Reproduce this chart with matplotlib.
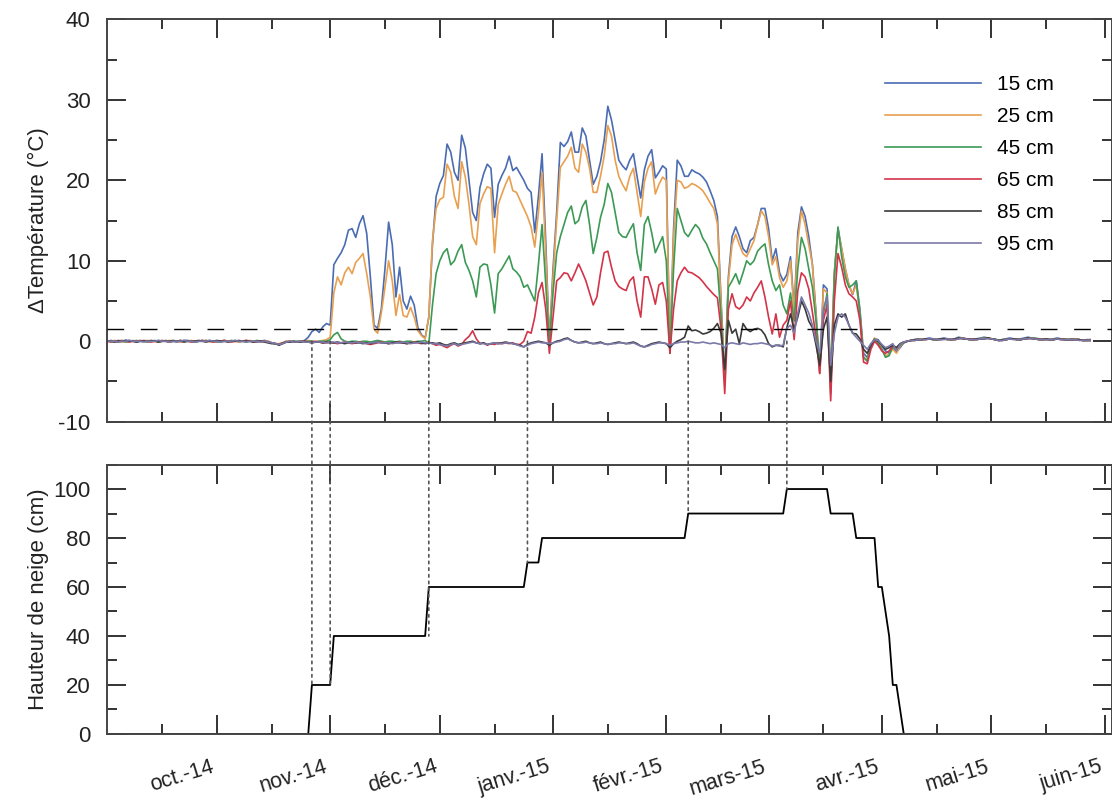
import numpy as np
import pandas as pd
import matplotlib
matplotlib.use("Agg")
import matplotlib.pyplot as plt
import matplotlib.dates as mdates
from matplotlib.patches import ConnectionPatch
from matplotlib.ticker import MultipleLocator

plt.rcParams['font.family'] = ['Liberation Sans', 'DejaVu Sans']
plt.rcParams['axes.unicode_minus'] = False

# daily temperature differences from 2014-09-01, one value per day (deg C)
t15 = [
    0.0, 0.1, 0.0, -0.1, 0.0, 0.1, 0.1, 0.0, -0.1, 0.0,
    0.1, 0.0, 0.0, 0.1, -0.1, 0.0, 0.1, 0.0, 0.0, -0.1,
    0.0, 0.1, 0.1, 0.0, -0.1, 0.0, 0.1, 0.0, 0.1, 0.0,
    -0.1, 0.0, 0.1, 0.0, 0.0, 0.1, -0.1, 0.0, 0.1, 0.0,
    0.0, -0.1, 0.0, 0.1, 0.0, -0.2, -0.3, -0.4, -0.2, 0.0,
    -0.1, 0.0, -0.1, 0.0, 0.1, 0.5, 1.2, 1.5, 1.1, 1.8,
    2.2, 2.0, 9.5, 10.3, 11.0, 12.0, 13.8, 14.0, 12.9, 14.6,
    15.6, 13.4, 8.0, 2.0, 1.6, 4.0, 9.0, 14.8, 12.0, 5.5,
    9.2, 5.0, 4.0, 5.6, 4.5, 1.7, 0.8, 0.4, 3.0, 12.0,
    18.0, 19.6, 20.6, 24.5, 23.5, 21.0, 20.0, 25.6, 24.0, 20.0,
    16.0, 15.0, 19.1, 20.8, 22.0, 21.5, 15.4, 19.5, 20.6, 21.5,
    23.0, 21.2, 21.6, 20.8, 20.0, 19.0, 18.5, 13.5, 18.0, 23.3,
    12.5, -0.2, 9.0, 16.0, 24.7, 24.2, 24.8, 26.0, 23.5, 23.5,
    26.5, 25.5, 22.5, 19.5, 20.5, 22.3, 25.0, 29.2, 27.5, 25.0,
    22.5, 21.8, 21.3, 22.5, 23.3, 20.5, 17.8, 21.3, 23.0, 23.8,
    20.3, 21.0, 21.8, 21.4, -1.5, 14.0, 22.5, 21.8, 20.5, 20.5,
    21.3, 21.0, 20.8, 20.4, 19.8, 18.7, 17.5, 15.5, 5.0, -4.5,
    8.0, 13.0, 14.2, 13.0, 11.5, 11.0, 12.5, 12.9, 14.5, 16.5,
    16.5, 14.0, 10.0, 11.5, 8.5, 7.5, 8.3, 10.5, 4.0, 13.5,
    16.7, 15.5, 13.0, 9.5, 3.5, -4.0, 7.0, 6.5, -5.0, 8.5,
    14.0, 11.5, 9.0, 7.0, 5.8, 7.5, 4.0, -1.5, -2.0, -0.6,
    0.3, 0.2, -0.6, -1.2, -1.5, -0.8, -1.3, -0.8, -0.2, 0.0,
    0.1, 0.2, 0.3, 0.2, 0.3, 0.4, 0.3, 0.2, 0.3, 0.4,
    0.3, 0.2, 0.3, 0.5, 0.4, 0.3, 0.2, 0.3, 0.3, 0.4,
    0.5, 0.4, 0.3, 0.2, 0.1, 0.2, 0.3, 0.4, 0.3, 0.2,
    0.3, 0.4, 0.5, 0.4, 0.3, 0.2, 0.3, 0.3, 0.2, 0.3,
    0.4, 0.3, 0.2, 0.2, 0.3, 0.3, 0.2, 0.1, 0.2, 0.2,
]
t25 = [
    0.0, 0.0, 0.1, 0.0, -0.1, 0.0, 0.0, 0.1, 0.0, 0.0,
    0.0, 0.1, 0.0, 0.0, -0.1, 0.0, 0.0, 0.1, 0.0, 0.0,
    -0.1, 0.0, 0.0, 0.1, 0.0, 0.0, 0.0, 0.1, 0.0, -0.1,
    0.0, 0.0, 0.1, 0.0, 0.0, 0.0, -0.1, 0.0, 0.0, 0.1,
    0.0, 0.0, -0.1, 0.0, 0.0, -0.2, -0.3, -0.3, -0.2, 0.0,
    0.0, -0.1, 0.0, 0.0, 0.0, 0.1, 0.0, -0.1, 0.0, 0.1,
    0.2, 0.5, 6.0, 8.0, 7.0, 8.5, 9.2, 8.4, 9.8, 10.3,
    10.9, 8.4, 5.5, 1.5, 1.0, 3.5, 6.7, 10.0, 7.5, 3.2,
    5.8, 3.2, 3.0, 4.2, 3.0, 1.3, 0.7, 0.3, 3.0, 12.5,
    16.5, 17.6, 17.9, 22.0, 21.0, 18.0, 16.5, 22.3, 20.4, 17.0,
    13.0, 12.0, 17.1, 18.3, 19.2, 19.0, 11.0, 17.0, 18.3, 19.5,
    20.5, 18.7, 18.5, 17.5, 16.5, 15.5, 14.2, 11.7, 16.0, 21.0,
    11.0, -0.3, 8.0, 15.0, 21.6, 22.3, 23.0, 24.1, 21.5, 21.0,
    24.5, 23.5, 21.5, 18.5, 18.5, 20.5, 23.0, 26.8, 25.5, 22.5,
    20.5, 19.5, 18.7, 20.5, 21.5, 18.5, 15.5, 19.8, 21.5, 22.3,
    18.3, 19.5, 20.4, 20.0, -1.5, 13.0, 20.0, 19.8, 19.0, 19.2,
    19.6, 19.4, 19.1, 18.7, 18.0, 17.2, 16.5, 14.6, 4.5, -4.8,
    7.5, 12.0, 13.3, 12.0, 10.9, 10.5, 11.5, 12.5, 14.5, 16.2,
    15.5, 13.0, 9.5, 10.5, 7.9, 6.7, 7.5, 10.0, 3.5, 12.5,
    16.2, 14.5, 12.0, 9.5, 3.0, -4.0, 6.5, 6.0, -5.5, 8.5,
    13.8, 11.5, 9.0, 7.0, 5.9, 7.0, 3.5, -2.0, -2.3, -0.5,
    0.4, 0.0, -1.0, -1.8, -1.6, -1.0, -1.5, -0.6, -0.2, 0.0,
    0.1, 0.2, 0.2, 0.3, 0.2, 0.3, 0.3, 0.2, 0.3, 0.3,
    0.2, 0.2, 0.3, 0.4, 0.4, 0.3, 0.2, 0.2, 0.3, 0.3,
    0.4, 0.4, 0.3, 0.2, 0.1, 0.2, 0.2, 0.3, 0.3, 0.2,
    0.2, 0.3, 0.4, 0.4, 0.3, 0.2, 0.2, 0.3, 0.2, 0.2,
    0.3, 0.3, 0.2, 0.2, 0.2, 0.3, 0.2, 0.1, 0.1, 0.2,
]
t45 = [
    0.0, 0.0, 0.0, 0.1, 0.0, -0.1, 0.0, 0.0, 0.1, 0.0,
    0.0, -0.1, 0.0, 0.0, 0.1, 0.0, 0.0, -0.1, 0.0, 0.0,
    0.1, 0.0, 0.0, 0.0, -0.1, 0.0, 0.0, 0.1, 0.0, 0.0,
    0.0, -0.1, 0.0, 0.0, 0.1, 0.0, 0.0, 0.0, -0.1, 0.0,
    0.0, 0.1, 0.0, 0.0, -0.1, -0.2, -0.3, -0.4, -0.2, -0.1,
    0.0, -0.1, 0.0, 0.0, -0.1, 0.0, 0.0, -0.1, 0.0, 0.0,
    0.0, 0.2, 0.8, 1.1, 0.3, 0.0, -0.1, 0.0, 0.0, -0.1,
    0.0, 0.0, -0.1, 0.0, 0.1, 0.0, -0.1, 0.0, 0.0, -0.1,
    0.0, -0.1, 0.0, 0.0, -0.1, 0.0, 0.0, 0.1, -0.3, 4.5,
    8.4, 10.0, 11.0, 11.5, 9.5, 10.0, 11.2, 12.0, 9.8, 8.8,
    7.5, 5.5, 9.2, 9.6, 9.5, 7.0, 3.5, 8.4, 9.0, 9.8,
    10.6, 9.0, 8.6, 8.0, 6.7, 7.0, 6.0, 5.0, 9.5, 14.5,
    7.0, -0.3, 6.0, 11.0, 13.0, 14.5, 16.0, 16.8, 14.6, 15.0,
    16.7, 17.5, 14.5, 10.9, 12.9, 15.4, 17.0, 19.6, 18.5, 16.0,
    13.5, 13.0, 12.9, 13.8, 14.6, 11.0, 8.8, 14.5, 15.5, 13.5,
    11.0, 12.0, 13.0, 10.0, -1.5, 9.0, 16.5, 15.0, 13.5, 13.0,
    13.8, 14.5, 14.0, 12.8, 12.1, 11.0, 10.0, 9.0, 3.0, -5.0,
    6.7, 7.5, 8.4, 7.1, 8.5, 10.0, 9.5, 10.0, 11.2, 11.7,
    12.1, 9.5, 7.5, 6.3, 7.0, 4.5, 3.4, 6.0, 2.5, 9.0,
    12.9, 11.5, 9.0, 6.7, 2.5, -3.0, 3.4, 5.9, -6.5, 8.0,
    14.2, 10.5, 8.0, 6.7, 7.0, 7.5, 3.5, -2.0, -2.5, -0.5,
    0.3, -0.3, -1.0, -2.0, -1.8, -0.6, -1.0, -0.5, -0.2, 0.0,
    0.1, 0.1, 0.2, 0.2, 0.3, 0.3, 0.2, 0.2, 0.2, 0.3,
    0.3, 0.2, 0.2, 0.4, 0.4, 0.3, 0.3, 0.2, 0.2, 0.3,
    0.4, 0.4, 0.3, 0.3, 0.1, 0.1, 0.2, 0.3, 0.3, 0.3,
    0.2, 0.3, 0.4, 0.4, 0.4, 0.3, 0.2, 0.2, 0.2, 0.2,
    0.3, 0.3, 0.3, 0.2, 0.2, 0.2, 0.2, 0.1, 0.1, 0.1,
]
t65 = [
    0.0, -0.1, 0.0, 0.0, 0.1, 0.0, -0.1, 0.0, 0.0, 0.1,
    0.0, 0.0, -0.1, 0.0, 0.0, 0.1, 0.0, -0.1, 0.0, 0.0,
    0.1, 0.0, 0.0, -0.1, 0.0, 0.0, 0.1, 0.0, 0.0, -0.1,
    0.0, 0.0, 0.1, 0.0, -0.1, 0.0, 0.0, 0.0, 0.1, 0.0,
    -0.1, 0.0, 0.0, 0.0, -0.1, -0.2, -0.3, -0.4, -0.2, -0.1,
    0.0, -0.1, -0.1, 0.0, 0.0, -0.1, -0.1, 0.0, -0.1, -0.2,
    -0.2, -0.1, -0.2, -0.3, -0.2, -0.1, -0.2, -0.3, -0.2, -0.1,
    -0.2, -0.3, -0.4, -0.3, -0.2, -0.1, -0.2, -0.3, -0.2, -0.2,
    -0.1, -0.2, -0.3, -0.2, -0.1, -0.2, -0.3, -0.2, -0.1, -0.3,
    -0.5, -0.4, -0.6, -0.8, -0.5, -0.3, -0.6, -0.4, 0.2, 0.6,
    1.3, 0.3, -0.3, -0.2, -0.5, -0.3, -0.4, -0.2, -0.3, -0.2,
    -0.3, -0.2, -0.4, -0.4, 0.0, 1.2, 1.0, 3.0, 6.0, 7.3,
    4.0, -1.5, 3.0, 7.5, 7.9, 8.5, 8.4, 7.5, 8.5, 9.6,
    8.6, 7.5, 6.0, 4.5, 5.5, 8.5, 11.0, 11.2, 9.2, 7.5,
    6.8, 6.5, 6.3, 7.5, 8.0, 5.0, 3.0, 8.0, 8.0, 6.5,
    4.6, 7.0, 7.3, 5.0, -1.5, 4.0, 7.5, 8.5, 9.2, 8.6,
    8.5, 8.2, 7.9, 7.4, 6.8, 6.3, 5.8, 5.4, 1.5, -6.5,
    4.0, 5.9, 4.3, 4.0, 4.5, 5.5, 5.0, 6.0, 6.7, 7.5,
    5.5, 3.0, 0.9, 3.4, 0.5, 2.0, 2.6, 5.0, 0.2, 6.3,
    8.5, 8.0, 6.5, 3.6, 0.5, -4.0, 2.6, 4.5, -7.4, 5.0,
    10.9, 9.2, 7.0, 5.9, 5.5, 5.0, 2.6, -2.6, -2.8, -1.0,
    0.0, -0.5, -1.2, -1.5, -1.2, -0.6, -0.8, -0.4, -0.1, 0.0,
    0.1, 0.1, 0.2, 0.2, 0.2, 0.3, 0.3, 0.2, 0.2, 0.3,
    0.3, 0.2, 0.2, 0.3, 0.4, 0.3, 0.3, 0.2, 0.2, 0.3,
    0.3, 0.4, 0.3, 0.2, 0.1, 0.1, 0.2, 0.3, 0.3, 0.2,
    0.2, 0.3, 0.3, 0.4, 0.3, 0.3, 0.2, 0.2, 0.2, 0.2,
    0.3, 0.3, 0.2, 0.2, 0.2, 0.2, 0.2, 0.1, 0.1, 0.1,
]
t85 = [
    0.0, 0.0, -0.1, 0.0, 0.0, 0.1, 0.0, 0.0, -0.1, 0.0,
    0.0, 0.0, 0.1, 0.0, -0.1, 0.0, 0.0, 0.0, 0.1, 0.0,
    0.0, -0.1, 0.0, 0.0, 0.0, 0.1, 0.0, -0.1, 0.0, 0.0,
    0.1, 0.0, 0.0, -0.1, 0.0, 0.0, 0.1, 0.0, 0.0, 0.0,
    -0.1, 0.0, 0.0, -0.1, -0.2, -0.3, -0.3, -0.5, -0.3, -0.1,
    -0.1, 0.0, -0.1, -0.1, 0.0, -0.1, -0.2, -0.1, -0.1, -0.2,
    -0.1, -0.2, -0.2, -0.1, -0.2, -0.3, -0.2, -0.1, -0.2, -0.2,
    -0.3, -0.2, -0.3, -0.2, -0.1, -0.2, -0.2, -0.3, -0.2, -0.1,
    -0.2, -0.2, -0.3, -0.2, -0.2, -0.1, -0.2, -0.3, -0.2, -0.2,
    -0.3, -0.2, -0.4, -0.5, -0.3, -0.2, -0.4, -0.3, -0.2, -0.1,
    0.0, -0.2, -0.3, -0.2, -0.4, -0.3, -0.2, -0.3, -0.2, -0.1,
    -0.2, -0.3, -0.4, -0.5, -0.7, -0.4, -0.2, -0.1, 0.0, -0.1,
    -0.2, -0.5, -0.2, 0.0, 0.1, 0.3, 0.4, 0.1, -0.1, -0.2,
    -0.1, 0.0, -0.2, -0.3, -0.2, -0.1, -0.3, -0.4, -0.3, -0.2,
    -0.1, -0.2, -0.3, -0.2, -0.1, -0.3, -0.6, -0.7, -0.5, -0.3,
    -0.2, -0.1, -0.2, -0.3, -0.8, -0.3, 0.0, 0.2, 0.5, 1.9,
    1.3, 1.4, 1.2, 0.9, 1.0, 1.2, 1.6, 2.2, 1.0, -3.5,
    2.6, 1.0, 1.5, -0.3, 2.2, 1.5, 1.2, 1.5, 1.6, 1.4,
    0.8, -0.3, -0.7, -0.5, -0.5, -0.7, 1.7, 3.4, 1.5, 3.0,
    5.0, 4.0, 2.5, 1.7, -0.5, -3.0, 1.5, 3.0, -5.0, 2.0,
    3.4, 3.0, 3.4, 2.0, 1.0, 0.9, 0.3, -1.0, -1.5, -0.5,
    0.2, 0.0, -0.5, -1.0, -0.8, -0.5, -0.8, -0.3, -0.1, 0.0,
    0.1, 0.2, 0.2, 0.2, 0.3, 0.3, 0.2, 0.2, 0.3, 0.3,
    0.2, 0.2, 0.3, 0.4, 0.3, 0.3, 0.2, 0.2, 0.3, 0.3,
    0.3, 0.4, 0.3, 0.2, 0.1, 0.2, 0.2, 0.3, 0.3, 0.2,
    0.2, 0.3, 0.4, 0.3, 0.3, 0.2, 0.2, 0.3, 0.2, 0.2,
    0.3, 0.2, 0.2, 0.2, 0.2, 0.2, 0.2, 0.1, 0.1, 0.1,
]
t95 = [
    0.0, 0.0, 0.0, -0.1, 0.0, 0.0, 0.1, 0.0, 0.0, 0.0,
    -0.1, 0.0, 0.0, 0.0, 0.1, 0.0, 0.0, -0.1, 0.0, 0.0,
    0.0, 0.1, 0.0, 0.0, -0.1, 0.0, 0.0, 0.0, 0.1, 0.0,
    0.0, -0.1, 0.0, 0.0, 0.0, 0.1, 0.0, 0.0, -0.1, 0.0,
    0.0, 0.0, -0.1, 0.0, -0.1, -0.2, -0.3, -0.4, -0.3, -0.1,
    0.0, -0.1, -0.1, 0.0, -0.1, -0.1, -0.2, -0.1, -0.1, -0.1,
    -0.2, -0.1, -0.1, -0.2, -0.2, -0.1, -0.2, -0.2, -0.1, -0.2,
    -0.2, -0.3, -0.2, -0.2, -0.1, -0.2, -0.2, -0.2, -0.3, -0.2,
    -0.2, -0.1, -0.2, -0.3, -0.2, -0.2, -0.1, -0.2, -0.2, -0.3,
    -0.3, -0.4, -0.5, -0.6, -0.4, -0.3, -0.5, -0.4, -0.3, -0.2,
    -0.1, -0.2, -0.3, -0.3, -0.4, -0.3, -0.2, -0.3, -0.3, -0.2,
    -0.2, -0.3, -0.4, -0.6, -0.7, -0.5, -0.3, -0.2, -0.1, -0.2,
    -0.2, -0.3, -0.2, -0.1, 0.0, 0.2, 0.3, 0.1, -0.1, -0.2,
    -0.2, -0.1, -0.2, -0.3, -0.3, -0.2, -0.3, -0.4, -0.3, -0.3,
    -0.2, -0.2, -0.3, -0.3, -0.2, -0.4, -0.6, -0.7, -0.6, -0.4,
    -0.3, -0.2, -0.2, -0.3, -0.5, -0.3, -0.2, -0.1, -0.1, 0.0,
    -0.1, -0.2, -0.2, -0.1, -0.2, -0.3, -0.2, -0.3, -0.4, -0.8,
    -0.3, -0.2, -0.3, -0.4, -0.2, -0.3, -0.4, -0.3, -0.3, -0.2,
    -0.3, -0.4, -0.6, -0.5, -0.6, -0.5, 1.6, 2.0, 1.0, 3.5,
    5.5, 4.5, 3.5, 2.0, 0.0, -1.5, 4.0, 5.5, -3.0, 1.0,
    3.0, 3.4, 3.0, 2.0, 1.0, 0.5, 0.0, -0.5, -1.0, -0.3,
    0.2, 0.1, -0.4, -0.8, -0.6, -0.3, -1.2, -0.4, -0.1, 0.0,
    0.1, 0.1, 0.2, 0.2, 0.2, 0.3, 0.3, 0.2, 0.2, 0.2,
    0.3, 0.2, 0.2, 0.3, 0.4, 0.3, 0.2, 0.2, 0.2, 0.3,
    0.3, 0.3, 0.3, 0.2, 0.1, 0.1, 0.2, 0.3, 0.2, 0.2,
    0.2, 0.3, 0.3, 0.4, 0.3, 0.2, 0.2, 0.2, 0.2, 0.2,
    0.3, 0.2, 0.2, 0.2, 0.2, 0.2, 0.1, 0.1, 0.1, 0.1,
]

depth_labels = ["15 cm", "25 cm", "45 cm", "65 cm", "85 cm", "95 cm"]
depth_colors = ["#4a6cb3", "#e8a050", "#3c9a55", "#d3344a", "#3a3a3a", "#7b79a8"]

# snow depth (cm)
snow_dates = ["2014-09-01", "2014-10-26", "2014-10-27", "2014-11-01", "2014-11-02",
              "2014-11-27", "2014-11-28", "2014-12-24", "2014-12-25", "2014-12-28",
              "2014-12-29", "2015-02-06", "2015-02-07", "2015-03-05", "2015-03-06",
              "2015-03-17", "2015-03-18", "2015-03-24", "2015-03-25", "2015-03-30",
              "2015-03-31", "2015-04-01", "2015-04-03", "2015-04-04", "2015-04-05",
              "2015-04-07", "2015-06-03"]
snow_cm = [0, 0, 20, 20, 40, 40, 60, 60, 70, 70, 80, 80, 90, 90, 100,
           100, 90, 90, 80, 80, 60, 60, 40, 20, 20, 0, 0]

# date each depth passed the threshold, and snow depth on that day
onset_dates = ["2014-10-27", "2014-11-01", "2014-11-28", "2014-12-25", "2015-02-07", "2015-03-06"]
onset_snow = [20, 20, 40, 70, 90, 100]
threshold = 1.5

month_ticks = ["2014-10-01", "2014-11-01", "2014-12-01", "2015-01-01", "2015-02-01",
               "2015-03-01", "2015-04-01", "2015-05-01", "2015-06-01"]
month_labels = ["oct.-14", "nov.-14", "déc.-14", "janv.-15", "févr.-15",
                "mars-15", "avr.-15", "mai-15", "juin-15"]

dates = pd.date_range("2014-09-01", periods=len(t15), freq="D")
series = [t15, t25, t45, t65, t85, t95]

fig = plt.figure(figsize=(11.12, 7.99), dpi=100)
ax1 = fig.add_axes([0.0965, 0.4722, 0.9035, 0.5036])
ax2 = fig.add_axes([0.0965, 0.0814, 0.9035, 0.3372])

for vals, lab, col in zip(series, depth_labels, depth_colors):
    ax1.plot(dates, vals, color=col, lw=1.2, label=lab)
ax1.axhline(threshold, color="black", lw=1.0, dashes=(12, 12), zorder=4)

ax2.plot(pd.to_datetime(snow_dates), snow_cm, color="black", lw=1.3)

xmin, xmax = pd.Timestamp("2014-09-01"), pd.Timestamp("2015-06-03")
for ax in (ax1, ax2):
    ax.set_xlim(xmin, xmax)
    ax.set_xticks(pd.to_datetime(month_ticks))
    ax.xaxis.set_minor_locator(mdates.MonthLocator(bymonthday=16))
    ax.tick_params(which="both", direction="in", top=True, right=True,
                   color="#333333", width=1.4, labelcolor="#222222")
    ax.tick_params(which="major", length=14)
    ax.tick_params(which="minor", length=7)
    ax.tick_params(axis="y", labelsize=16, pad=12)
    for s in ax.spines.values():
        s.set_linewidth(1.4)
        s.set_color("#444444")

ax1.set_ylim(-10, 40)
ax1.yaxis.set_major_locator(MultipleLocator(10))
ax1.yaxis.set_minor_locator(MultipleLocator(5))
ax1.tick_params(axis="x", labelbottom=False)
ax1.set_ylabel("ΔTempérature (°C)", fontsize=16, color="#222222")
ax1.yaxis.set_label_coords(-0.058, 0.5)

ax2.set_ylim(0, 110)
ax2.yaxis.set_major_locator(MultipleLocator(20))
ax2.yaxis.set_minor_locator(MultipleLocator(10))
ax2.set_xticklabels(month_labels, rotation=17, ha="right", fontsize=15.5)
ax2.tick_params(axis="x", pad=16)
ax2.set_ylabel("Hauteur de neige (cm)", fontsize=16, color="#222222")
ax2.yaxis.set_label_coords(-0.058, 0.5)

ax1.legend(loc="upper left", bbox_to_anchor=(0.774, 0.861), frameon=False, fontsize=15,
           handlelength=4.6, handletextpad=0.8, labelspacing=0.62,
           borderpad=0, borderaxespad=0)

for d, h in zip(onset_dates, onset_snow):
    x = mdates.date2num(pd.Timestamp(d))
    con = ConnectionPatch(xyA=(x, 0), coordsA=ax1.transData,
                          xyB=(x, h), coordsB=ax2.transData,
                          linestyle=(0, (1.5, 2.5)), color="#555555", lw=1.2)
    fig.add_artist(con)

fig.savefig("out.png", dpi=100)
